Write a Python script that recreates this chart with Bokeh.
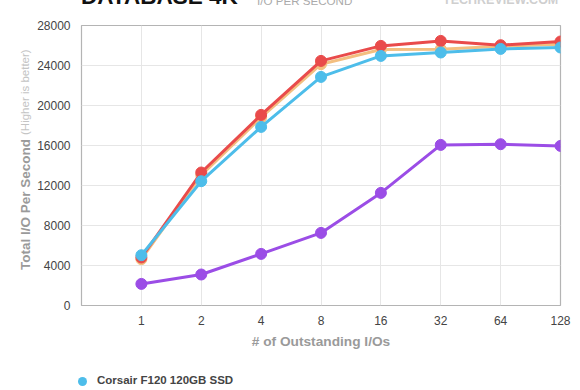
from bokeh.plotting import figure
from bokeh.models import Range1d, FixedTicker, Div
from bokeh.layouts import column, row
from bokeh.embed import file_html
from bokeh.resources import INLINE

categories = ["1", "2", "4", "8", "16", "32", "64", "128"]
corsair = [5030, 12430, 17860, 22860, 24960, 25300, 25660, 25800]
red_series = [4800, 13300, 19060, 24460, 25960, 26460, 26030, 26400]
orange_series = [4630, 13030, 18800, 24130, 25600, 25630, 25930, 26130]
purple_series = [2160, 3100, 5160, 7260, 11260, 16060, 16130, 15960]
y_ticks = [0, 4000, 8000, 12000, 16000, 20000, 24000, 28000]
legend_names = ["Corsair F120 120GB SSD"]
colors = ["#9b4de6", "#f3bf80", "#e94b4b", "#4dbdea"]

FONT = "'Liberation Sans', Arial, sans-serif"
BFONT = "Liberation Sans"
xs = [i + 1 for i in range(len(categories))]
DIV_STYLE = {"margin": "0", "padding": "0", "overflow": "hidden", "background": "white"}


def span(text, left, top, size, color, bold=False, extra=""):
    weight = "bold" if bold else "normal"
    return (f'<span style="position:absolute;left:{left}px;top:{top}px;'
            f'font-family:{FONT};font-size:{size}px;font-weight:{weight};color:{color};'
            f'line-height:1;white-space:nowrap;{extra}">{text}</span>')


def box(w, h, inner):
    return (f'<div style="position:relative;width:{w}px;height:{h}px;overflow:hidden;'
            f'margin:0;padding:0;">{inner}</div>')


# header (cut off at the top of the window)
header = Div(width=580, height=19, styles=DIV_STYLE, text=box(580, 19,
             span("DATABASE 4K", 81, -14, 22.5, "#111111", True) +
             span("I/O PER SECOND", 257, -5.2, 11.6, "#aaaaaa") +
             span("TECHREVIEW.COM", 443, -6, 12.5, "#cfcfcf", True)))

# rotated y-axis title
rot = "transform-origin:0 0;transform:rotate(-90deg);"
left = Div(width=34, height=346, styles=DIV_STYLE, text=box(34, 346,
           span("Total I/O Per Second", 19.25, 251, 13.5, "#9a9a9a", True, rot) +
           span("(Higher is better)", 20.25, 116, 11.5, "#c4c4c4", False, rot)))

# main chart
p = figure(width=546, height=346, output_backend="svg", toolbar_location=None,
           x_range=Range1d(0, len(categories)), y_range=Range1d(0, 28000),
           min_border_left=46, min_border_right=20, min_border_top=6, min_border_bottom=60)
p.outline_line_color = "#b4b4b4"
p.outline_line_width = 1.2
p.background_fill_color = "white"
p.border_fill_color = "white"

p.xaxis.ticker = FixedTicker(ticks=xs)
p.xaxis.major_label_overrides = {x: c for x, c in zip(xs, categories)}
p.yaxis.ticker = FixedTicker(ticks=y_ticks)
for ax in (p.xaxis[0], p.yaxis[0]):
    ax.axis_line_color = None
    ax.major_tick_line_color = None
    ax.minor_tick_line_color = None
    ax.major_tick_out = 0
    ax.major_tick_in = 0
    ax.minor_tick_out = 0
    ax.minor_tick_in = 0
    ax.major_label_text_font = BFONT
    ax.major_label_text_font_size = "12px"
    ax.major_label_text_color = "#444444"
p.yaxis.major_label_standoff = 11
p.xaxis.major_label_standoff = 10
p.xaxis.axis_label = "# of Outstanding I/Os"
p.xaxis.axis_label_text_font = BFONT
p.xaxis.axis_label_text_font_size = "13.7px"
p.xaxis.axis_label_text_font_style = "bold"
p.xaxis.axis_label_text_color = "#9a9a9a"
p.xaxis.axis_label_standoff = 6

p.xgrid.ticker = FixedTicker(ticks=xs)
p.grid.grid_line_color = "#e6e6e6"
p.grid.grid_line_width = 1

series = [purple_series, orange_series, red_series, corsair]
for vals, col in zip(series, colors):
    p.line(xs, vals, line_color=col, line_width=3)
    p.scatter(xs, vals, size=11, fill_color=col, line_color=col)

# legend strip (only the first entry is visible in the window)
dot = (f'<span style="position:absolute;left:77.5px;top:11.5px;width:9px;height:9px;'
       f'border-radius:50%;background:{colors[3]};"></span>')
leg = Div(width=580, height=25, styles=DIV_STYLE, text=box(580, 25,
          dot + span(legend_names[0], 97, 10.4, 11.5, "#444444", True)))

layout = column(header, row(left, p, spacing=0), leg, spacing=0)
open("out.html", "w").write(file_html(layout, INLINE))
